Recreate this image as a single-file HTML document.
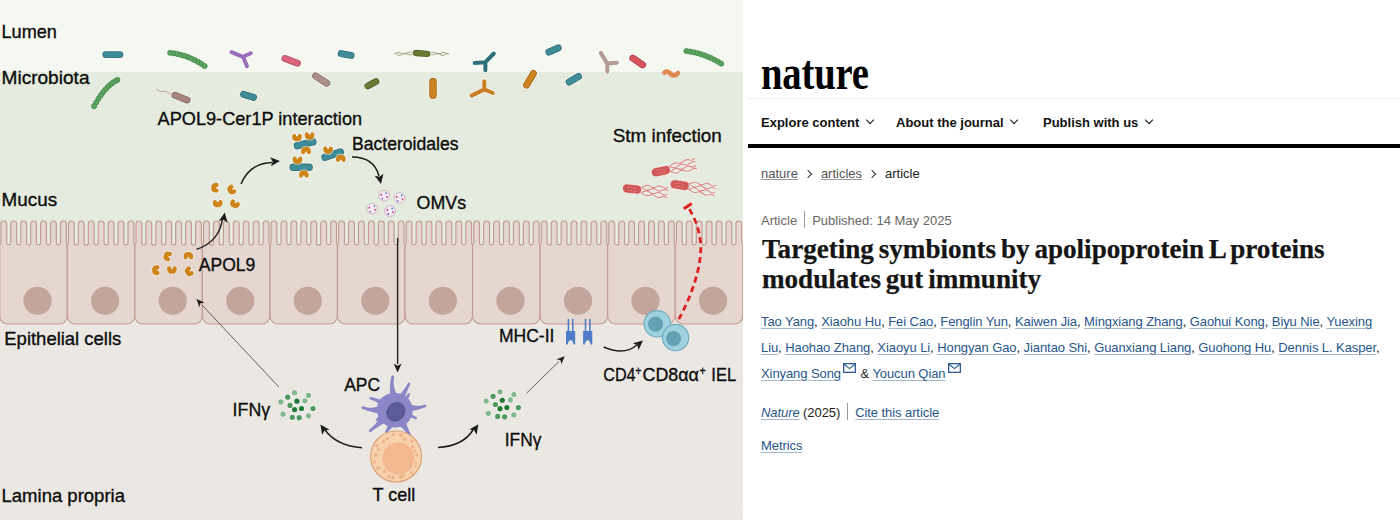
<!DOCTYPE html>
<html><head><meta charset="utf-8"><style>
*{margin:0;padding:0;box-sizing:border-box}
html,body{width:1400px;height:520px;overflow:hidden;background:#fff}
body{position:relative;font-family:"Liberation Sans",sans-serif}
#lp{position:absolute;left:0;top:0;width:743px;height:520px;overflow:hidden}
.t{position:absolute;font-family:"Liberation Sans",sans-serif;font-size:18px;color:#111;white-space:nowrap;line-height:1}
#rp{position:absolute;left:743px;top:0;width:657px;height:520px;background:#fff}
.logo,.hline,.ni,.thick,.bc,.meta,.title,.al{position:absolute}
.logo{left:761px;top:48.7px;transform-origin:0 0;transform:scaleX(0.805);font-family:"Liberation Serif",serif;font-weight:bold;font-size:48px;line-height:1;letter-spacing:-0.2px;color:#000;white-space:nowrap}
.hline{left:748px;top:98px;width:652px;height:1px;background:#eeeeee}
.ni{top:115.7px;font-weight:bold;font-size:13px;line-height:1;color:#111;white-space:nowrap}
.chev{display:inline-block;width:6.2px;height:6.2px;border-right:1.9px solid #111;border-bottom:1.9px solid #111;transform:rotate(45deg);margin-left:7.5px;vertical-align:4px}
.thick{left:748px;top:144px;width:652px;height:4px;background:#000}
.bc,.meta,.al{font-size:13px;line-height:1;white-space:nowrap;left:761px}
.bc a.g{color:#555;text-decoration:underline;text-decoration-color:#999}
.gt{display:inline-block;width:6px;height:6px;border-right:1.6px solid #333;border-top:1.6px solid #333;transform:rotate(45deg);margin:0 10px 0 7px;vertical-align:1px}
.cur{color:#222}
.meta{color:#666}
.sep{display:inline-block;width:1px;height:17px;background:#999;margin:0 7px;vertical-align:-4px;position:relative;top:-0.8px}
.sep2{display:inline-block;width:1px;height:17px;background:#999;margin:0 7px;vertical-align:-4px;position:relative;top:-1.5px}
.title{left:762px;top:233.6px;transform-origin:0 0;transform:scaleX(0.982);word-spacing:-2px;font-family:"Liberation Serif",serif;font-weight:bold;font-size:27.6px;line-height:30.6px;color:#151515;white-space:nowrap;-webkit-text-stroke:0.25px #151515}
.al a{color:#27568a;text-decoration:underline;text-decoration-color:#a3b9cb;text-decoration-thickness:1.4px;text-underline-offset:2px}
.al{color:#222;letter-spacing:-0.08px}
.env{display:inline-block;width:13px;height:10px;margin-left:2px;margin-right:1px;vertical-align:baseline;position:relative;top:-5px}
</style></head>
<body>
<div id="lp">
<svg width="743" height="520" viewBox="0 0 743 520" style="position:absolute;left:0;top:0">
<defs><marker id="ah" viewBox="0 0 10 10" refX="8" refY="5" markerWidth="6" markerHeight="6" orient="auto-start-reverse" markerUnits="userSpaceOnUse"><path d="M0,0 L10,5 L0,10 z" fill="#1e1e1e"/></marker></defs>
<rect x="0" y="0" width="743" height="520" fill="#ebe8e4"/>
<rect x="0" y="0" width="743" height="72" fill="#f4f8f1"/>
<rect x="0" y="72" width="743" height="180" fill="#e5ecdf"/>
<rect x="0" y="252" width="743" height="257.5" fill="#ebe8e4"/>
<rect x="0" y="508.5" width="743" height="1" fill="#e5e2de"/><rect x="0" y="509.5" width="743" height="1" fill="#efece9"/>
<path d="M-0.30,316.00 L-0.30,244.50 Q0.90,244.50 0.90,242.50 L0.90,223.90 A2.9,2.9 0 0 1 6.70,223.90 L6.70,242.94 A2.07,2.07 0 0 0 10.83,242.94 L10.83,223.90 A2.9,2.9 0 0 1 16.63,223.90 L16.63,242.94 A2.07,2.07 0 0 0 20.76,242.94 L20.76,223.90 A2.9,2.9 0 0 1 26.56,223.90 L26.56,242.94 A2.06,2.06 0 0 0 30.69,242.94 L30.69,223.90 A2.9,2.9 0 0 1 36.49,223.90 L36.49,242.94 A2.07,2.07 0 0 0 40.62,242.94 L40.62,223.90 A2.9,2.9 0 0 1 46.42,223.90 L46.42,242.94 A2.07,2.07 0 0 0 50.55,242.94 L50.55,223.90 A2.9,2.9 0 0 1 56.35,223.90 L56.35,242.94 A2.07,2.07 0 0 0 60.48,242.94 L60.48,223.90 A2.9,2.9 0 0 1 66.28,223.90 L66.28,242.50 Q66.28,244.50 67.25,244.50 L67.25,316.00 A8,8 0 0 1 59.25,324.00 L7.70,324.00 A8,8 0 0 1 -0.30,316.00 Z" fill="#e6d6d0" stroke="#c39a8f" stroke-width="1.15"/>
<circle cx="37.60" cy="300.8" r="14.1" fill="#c3a59c"/>
<path d="M67.25,316.00 L67.25,244.50 Q68.45,244.50 68.45,242.50 L68.45,223.90 A2.9,2.9 0 0 1 74.25,223.90 L74.25,242.94 A2.06,2.06 0 0 0 78.38,242.94 L78.38,223.90 A2.9,2.9 0 0 1 84.18,223.90 L84.18,242.94 A2.06,2.06 0 0 0 88.31,242.94 L88.31,223.90 A2.9,2.9 0 0 1 94.11,223.90 L94.11,242.94 A2.06,2.06 0 0 0 98.24,242.94 L98.24,223.90 A2.9,2.9 0 0 1 104.04,223.90 L104.04,242.94 A2.06,2.06 0 0 0 108.17,242.94 L108.17,223.90 A2.9,2.9 0 0 1 113.97,223.90 L113.97,242.94 A2.06,2.06 0 0 0 118.10,242.94 L118.10,223.90 A2.9,2.9 0 0 1 123.90,223.90 L123.90,242.94 A2.06,2.06 0 0 0 128.03,242.94 L128.03,223.90 A2.9,2.9 0 0 1 133.83,223.90 L133.83,242.50 Q133.83,244.50 134.80,244.50 L134.80,316.00 A8,8 0 0 1 126.80,324.00 L75.25,324.00 A8,8 0 0 1 67.25,316.00 Z" fill="#e6d6d0" stroke="#c39a8f" stroke-width="1.15"/>
<circle cx="105.15" cy="300.8" r="14.1" fill="#c3a59c"/>
<path d="M134.80,316.00 L134.80,244.50 Q136.00,244.50 136.00,242.50 L136.00,223.90 A2.9,2.9 0 0 1 141.80,223.90 L141.80,242.94 A2.06,2.06 0 0 0 145.93,242.94 L145.93,223.90 A2.9,2.9 0 0 1 151.73,223.90 L151.73,242.94 A2.06,2.06 0 0 0 155.86,242.94 L155.86,223.90 A2.9,2.9 0 0 1 161.66,223.90 L161.66,242.94 A2.06,2.06 0 0 0 165.79,242.94 L165.79,223.90 A2.9,2.9 0 0 1 171.59,223.90 L171.59,242.94 A2.06,2.06 0 0 0 175.72,242.94 L175.72,223.90 A2.9,2.9 0 0 1 181.52,223.90 L181.52,242.94 A2.06,2.06 0 0 0 185.65,242.94 L185.65,223.90 A2.9,2.9 0 0 1 191.45,223.90 L191.45,242.94 A2.06,2.06 0 0 0 195.58,242.94 L195.58,223.90 A2.9,2.9 0 0 1 201.38,223.90 L201.38,242.50 Q201.38,244.50 202.35,244.50 L202.35,316.00 A8,8 0 0 1 194.35,324.00 L142.80,324.00 A8,8 0 0 1 134.80,316.00 Z" fill="#e6d6d0" stroke="#c39a8f" stroke-width="1.15"/>
<circle cx="172.70" cy="300.8" r="14.1" fill="#c3a59c"/>
<path d="M202.35,316.00 L202.35,244.50 Q203.55,244.50 203.55,242.50 L203.55,223.90 A2.9,2.9 0 0 1 209.35,223.90 L209.35,242.94 A2.06,2.06 0 0 0 213.48,242.94 L213.48,223.90 A2.9,2.9 0 0 1 219.28,223.90 L219.28,242.94 A2.06,2.06 0 0 0 223.41,242.94 L223.41,223.90 A2.9,2.9 0 0 1 229.21,223.90 L229.21,242.94 A2.06,2.06 0 0 0 233.34,242.94 L233.34,223.90 A2.9,2.9 0 0 1 239.14,223.90 L239.14,242.94 A2.06,2.06 0 0 0 243.27,242.94 L243.27,223.90 A2.9,2.9 0 0 1 249.07,223.90 L249.07,242.94 A2.06,2.06 0 0 0 253.20,242.94 L253.20,223.90 A2.9,2.9 0 0 1 259.00,223.90 L259.00,242.93 A2.07,2.07 0 0 0 263.13,242.93 L263.13,223.90 A2.9,2.9 0 0 1 268.93,223.90 L268.93,242.50 Q268.93,244.50 269.90,244.50 L269.90,316.00 A8,8 0 0 1 261.90,324.00 L210.35,324.00 A8,8 0 0 1 202.35,316.00 Z" fill="#e6d6d0" stroke="#c39a8f" stroke-width="1.15"/>
<circle cx="240.25" cy="300.8" r="14.1" fill="#c3a59c"/>
<path d="M269.90,316.00 L269.90,244.50 Q271.10,244.50 271.10,242.50 L271.10,223.90 A2.9,2.9 0 0 1 276.90,223.90 L276.90,242.93 A2.07,2.07 0 0 0 281.03,242.93 L281.03,223.90 A2.9,2.9 0 0 1 286.83,223.90 L286.83,242.93 A2.07,2.07 0 0 0 290.96,242.93 L290.96,223.90 A2.9,2.9 0 0 1 296.76,223.90 L296.76,242.93 A2.07,2.07 0 0 0 300.89,242.93 L300.89,223.90 A2.9,2.9 0 0 1 306.69,223.90 L306.69,242.93 A2.07,2.07 0 0 0 310.82,242.93 L310.82,223.90 A2.9,2.9 0 0 1 316.62,223.90 L316.62,242.94 A2.06,2.06 0 0 0 320.75,242.94 L320.75,223.90 A2.9,2.9 0 0 1 326.55,223.90 L326.55,242.93 A2.07,2.07 0 0 0 330.68,242.93 L330.68,223.90 A2.9,2.9 0 0 1 336.48,223.90 L336.48,242.50 Q336.48,244.50 337.45,244.50 L337.45,316.00 A8,8 0 0 1 329.45,324.00 L277.90,324.00 A8,8 0 0 1 269.90,316.00 Z" fill="#e6d6d0" stroke="#c39a8f" stroke-width="1.15"/>
<circle cx="307.80" cy="300.8" r="14.1" fill="#c3a59c"/>
<path d="M337.45,316.00 L337.45,244.50 Q338.65,244.50 338.65,242.50 L338.65,223.90 A2.9,2.9 0 0 1 344.45,223.90 L344.45,242.93 A2.07,2.07 0 0 0 348.58,242.93 L348.58,223.90 A2.9,2.9 0 0 1 354.38,223.90 L354.38,242.93 A2.07,2.07 0 0 0 358.51,242.93 L358.51,223.90 A2.9,2.9 0 0 1 364.31,223.90 L364.31,242.93 A2.07,2.07 0 0 0 368.44,242.93 L368.44,223.90 A2.9,2.9 0 0 1 374.24,223.90 L374.24,242.94 A2.06,2.06 0 0 0 378.37,242.94 L378.37,223.90 A2.9,2.9 0 0 1 384.17,223.90 L384.17,242.93 A2.07,2.07 0 0 0 388.30,242.93 L388.30,223.90 A2.9,2.9 0 0 1 394.10,223.90 L394.10,242.93 A2.07,2.07 0 0 0 398.23,242.93 L398.23,223.90 A2.9,2.9 0 0 1 404.03,223.90 L404.03,242.50 Q404.03,244.50 405.00,244.50 L405.00,316.00 A8,8 0 0 1 397.00,324.00 L345.45,324.00 A8,8 0 0 1 337.45,316.00 Z" fill="#e6d6d0" stroke="#c39a8f" stroke-width="1.15"/>
<circle cx="375.35" cy="300.8" r="14.1" fill="#c3a59c"/>
<path d="M405.00,316.00 L405.00,244.50 Q406.20,244.50 406.20,242.50 L406.20,223.90 A2.9,2.9 0 0 1 412.00,223.90 L412.00,242.93 A2.07,2.07 0 0 0 416.13,242.93 L416.13,223.90 A2.9,2.9 0 0 1 421.93,223.90 L421.93,242.93 A2.07,2.07 0 0 0 426.06,242.93 L426.06,223.90 A2.9,2.9 0 0 1 431.86,223.90 L431.86,242.93 A2.07,2.07 0 0 0 435.99,242.93 L435.99,223.90 A2.9,2.9 0 0 1 441.79,223.90 L441.79,242.94 A2.06,2.06 0 0 0 445.92,242.94 L445.92,223.90 A2.9,2.9 0 0 1 451.72,223.90 L451.72,242.93 A2.07,2.07 0 0 0 455.85,242.93 L455.85,223.90 A2.9,2.9 0 0 1 461.65,223.90 L461.65,242.93 A2.07,2.07 0 0 0 465.78,242.93 L465.78,223.90 A2.9,2.9 0 0 1 471.58,223.90 L471.58,242.50 Q471.58,244.50 472.55,244.50 L472.55,316.00 A8,8 0 0 1 464.55,324.00 L413.00,324.00 A8,8 0 0 1 405.00,316.00 Z" fill="#e6d6d0" stroke="#c39a8f" stroke-width="1.15"/>
<circle cx="442.90" cy="300.8" r="14.1" fill="#c3a59c"/>
<path d="M472.55,316.00 L472.55,244.50 Q473.75,244.50 473.75,242.50 L473.75,223.90 A2.9,2.9 0 0 1 479.55,223.90 L479.55,242.93 A2.07,2.07 0 0 0 483.68,242.93 L483.68,223.90 A2.9,2.9 0 0 1 489.48,223.90 L489.48,242.93 A2.07,2.07 0 0 0 493.61,242.93 L493.61,223.90 A2.9,2.9 0 0 1 499.41,223.90 L499.41,242.93 A2.07,2.07 0 0 0 503.54,242.93 L503.54,223.90 A2.9,2.9 0 0 1 509.34,223.90 L509.34,242.93 A2.07,2.07 0 0 0 513.47,242.93 L513.47,223.90 A2.9,2.9 0 0 1 519.27,223.90 L519.27,242.94 A2.06,2.06 0 0 0 523.40,242.94 L523.40,223.90 A2.9,2.9 0 0 1 529.20,223.90 L529.20,242.93 A2.07,2.07 0 0 0 533.33,242.93 L533.33,223.90 A2.9,2.9 0 0 1 539.13,223.90 L539.13,242.50 Q539.13,244.50 540.10,244.50 L540.10,316.00 A8,8 0 0 1 532.10,324.00 L480.55,324.00 A8,8 0 0 1 472.55,316.00 Z" fill="#e6d6d0" stroke="#c39a8f" stroke-width="1.15"/>
<circle cx="510.45" cy="300.8" r="14.1" fill="#c3a59c"/>
<path d="M540.10,316.00 L540.10,244.50 Q541.30,244.50 541.30,242.50 L541.30,223.90 A2.9,2.9 0 0 1 547.10,223.90 L547.10,242.94 A2.06,2.06 0 0 0 551.23,242.94 L551.23,223.90 A2.9,2.9 0 0 1 557.03,223.90 L557.03,242.93 A2.07,2.07 0 0 0 561.16,242.93 L561.16,223.90 A2.9,2.9 0 0 1 566.96,223.90 L566.96,242.94 A2.06,2.06 0 0 0 571.09,242.94 L571.09,223.90 A2.9,2.9 0 0 1 576.89,223.90 L576.89,242.93 A2.07,2.07 0 0 0 581.02,242.93 L581.02,223.90 A2.9,2.9 0 0 1 586.82,223.90 L586.82,242.94 A2.06,2.06 0 0 0 590.95,242.94 L590.95,223.90 A2.9,2.9 0 0 1 596.75,223.90 L596.75,242.93 A2.07,2.07 0 0 0 600.88,242.93 L600.88,223.90 A2.9,2.9 0 0 1 606.68,223.90 L606.68,242.50 Q606.68,244.50 607.65,244.50 L607.65,316.00 A8,8 0 0 1 599.65,324.00 L548.10,324.00 A8,8 0 0 1 540.10,316.00 Z" fill="#e6d6d0" stroke="#c39a8f" stroke-width="1.15"/>
<circle cx="578.00" cy="300.8" r="14.1" fill="#c3a59c"/>
<path d="M607.65,316.00 L607.65,244.50 Q608.85,244.50 608.85,242.50 L608.85,223.90 A2.9,2.9 0 0 1 614.65,223.90 L614.65,242.94 A2.06,2.06 0 0 0 618.78,242.94 L618.78,223.90 A2.9,2.9 0 0 1 624.58,223.90 L624.58,242.93 A2.07,2.07 0 0 0 628.71,242.93 L628.71,223.90 A2.9,2.9 0 0 1 634.51,223.90 L634.51,242.94 A2.06,2.06 0 0 0 638.64,242.94 L638.64,223.90 A2.9,2.9 0 0 1 644.44,223.90 L644.44,242.93 A2.07,2.07 0 0 0 648.57,242.93 L648.57,223.90 A2.9,2.9 0 0 1 654.37,223.90 L654.37,242.94 A2.06,2.06 0 0 0 658.50,242.94 L658.50,223.90 A2.9,2.9 0 0 1 664.30,223.90 L664.30,242.93 A2.07,2.07 0 0 0 668.43,242.93 L668.43,223.90 A2.9,2.9 0 0 1 674.23,223.90 L674.23,242.50 Q674.23,244.50 675.20,244.50 L675.20,316.00 A8,8 0 0 1 667.20,324.00 L615.65,324.00 A8,8 0 0 1 607.65,316.00 Z" fill="#e6d6d0" stroke="#c39a8f" stroke-width="1.15"/>
<circle cx="645.55" cy="300.8" r="14.1" fill="#c3a59c"/>
<path d="M675.20,316.00 L675.20,244.50 Q676.40,244.50 676.40,242.50 L676.40,223.90 A2.9,2.9 0 0 1 682.20,223.90 L682.20,242.94 A2.06,2.06 0 0 0 686.33,242.94 L686.33,223.90 A2.9,2.9 0 0 1 692.13,223.90 L692.13,242.93 A2.07,2.07 0 0 0 696.26,242.93 L696.26,223.90 A2.9,2.9 0 0 1 702.06,223.90 L702.06,242.94 A2.06,2.06 0 0 0 706.19,242.94 L706.19,223.90 A2.9,2.9 0 0 1 711.99,223.90 L711.99,242.93 A2.07,2.07 0 0 0 716.12,242.93 L716.12,223.90 A2.9,2.9 0 0 1 721.92,223.90 L721.92,242.94 A2.06,2.06 0 0 0 726.05,242.94 L726.05,223.90 A2.9,2.9 0 0 1 731.85,223.90 L731.85,242.93 A2.07,2.07 0 0 0 735.98,242.93 L735.98,223.90 A2.9,2.9 0 0 1 741.78,223.90 L741.78,242.50 Q741.78,244.50 742.75,244.50 L742.75,316.00 A8,8 0 0 1 734.75,324.00 L683.20,324.00 A8,8 0 0 1 675.20,316.00 Z" fill="#e6d6d0" stroke="#c39a8f" stroke-width="1.15"/>
<circle cx="713.10" cy="300.8" r="14.1" fill="#c3a59c"/>
<line x1="105.80" y1="54.60" x2="119.90" y2="54.60" stroke="#fff" stroke-opacity="0.6" stroke-width="8.50" stroke-linecap="round"/>
<line x1="105.80" y1="54.60" x2="119.90" y2="54.60" stroke="#33717c" stroke-width="6.90" stroke-linecap="round"/>
<line x1="105.80" y1="54.60" x2="119.90" y2="54.60" stroke="#3f8b98" stroke-width="5.10" stroke-linecap="round"/>
<circle cx="170.20" cy="52.80" r="3.3" fill="#fff" fill-opacity="0.5"/>
<circle cx="173.93" cy="53.33" r="3.3" fill="#fff" fill-opacity="0.5"/>
<circle cx="177.59" cy="54.03" r="3.3" fill="#fff" fill-opacity="0.5"/>
<circle cx="181.19" cy="54.91" r="3.3" fill="#fff" fill-opacity="0.5"/>
<circle cx="184.73" cy="55.97" r="3.3" fill="#fff" fill-opacity="0.5"/>
<circle cx="188.20" cy="57.20" r="3.3" fill="#fff" fill-opacity="0.5"/>
<circle cx="191.61" cy="58.61" r="3.3" fill="#fff" fill-opacity="0.5"/>
<circle cx="194.95" cy="60.19" r="3.3" fill="#fff" fill-opacity="0.5"/>
<circle cx="198.23" cy="61.95" r="3.3" fill="#fff" fill-opacity="0.5"/>
<circle cx="201.45" cy="63.89" r="3.3" fill="#fff" fill-opacity="0.5"/>
<circle cx="204.60" cy="66.00" r="3.3" fill="#fff" fill-opacity="0.5"/>
<circle cx="170.20" cy="52.80" r="2.6" fill="#5aa55f" stroke="#49874d" stroke-width="0.8"/>
<circle cx="173.93" cy="53.33" r="2.6" fill="#5aa55f" stroke="#49874d" stroke-width="0.8"/>
<circle cx="177.59" cy="54.03" r="2.6" fill="#5aa55f" stroke="#49874d" stroke-width="0.8"/>
<circle cx="181.19" cy="54.91" r="2.6" fill="#5aa55f" stroke="#49874d" stroke-width="0.8"/>
<circle cx="184.73" cy="55.97" r="2.6" fill="#5aa55f" stroke="#49874d" stroke-width="0.8"/>
<circle cx="188.20" cy="57.20" r="2.6" fill="#5aa55f" stroke="#49874d" stroke-width="0.8"/>
<circle cx="191.61" cy="58.61" r="2.6" fill="#5aa55f" stroke="#49874d" stroke-width="0.8"/>
<circle cx="194.95" cy="60.19" r="2.6" fill="#5aa55f" stroke="#49874d" stroke-width="0.8"/>
<circle cx="198.23" cy="61.95" r="2.6" fill="#5aa55f" stroke="#49874d" stroke-width="0.8"/>
<circle cx="201.45" cy="63.89" r="2.6" fill="#5aa55f" stroke="#49874d" stroke-width="0.8"/>
<circle cx="204.60" cy="66.00" r="2.6" fill="#5aa55f" stroke="#49874d" stroke-width="0.8"/>
<path d="M243.00,56.80 L231.50,52.20 M243.00,56.80 L250.80,53.30 M243.00,56.80 L247.00,66.30" stroke="#fff" stroke-opacity="0.6" stroke-width="5.4" stroke-linecap="round" fill="none"/>
<path d="M243.00,56.80 L231.50,52.20 M243.00,56.80 L250.80,53.30 M243.00,56.80 L247.00,66.30" stroke="#9a6bb8" stroke-width="4.0" stroke-linecap="round" fill="none"/>
<circle cx="117.40" cy="79.90" r="3.3" fill="#fff" fill-opacity="0.5"/>
<circle cx="114.94" cy="81.26" r="3.3" fill="#fff" fill-opacity="0.5"/>
<circle cx="112.50" cy="82.90" r="3.3" fill="#fff" fill-opacity="0.5"/>
<circle cx="110.09" cy="84.83" r="3.3" fill="#fff" fill-opacity="0.5"/>
<circle cx="107.72" cy="87.04" r="3.3" fill="#fff" fill-opacity="0.5"/>
<circle cx="105.38" cy="89.53" r="3.3" fill="#fff" fill-opacity="0.5"/>
<circle cx="103.06" cy="92.30" r="3.3" fill="#fff" fill-opacity="0.5"/>
<circle cx="100.78" cy="95.35" r="3.3" fill="#fff" fill-opacity="0.5"/>
<circle cx="98.52" cy="98.68" r="3.3" fill="#fff" fill-opacity="0.5"/>
<circle cx="96.30" cy="102.30" r="3.3" fill="#fff" fill-opacity="0.5"/>
<circle cx="94.10" cy="106.20" r="3.3" fill="#fff" fill-opacity="0.5"/>
<circle cx="117.40" cy="79.90" r="2.6" fill="#5aa55f" stroke="#49874d" stroke-width="0.8"/>
<circle cx="114.94" cy="81.26" r="2.6" fill="#5aa55f" stroke="#49874d" stroke-width="0.8"/>
<circle cx="112.50" cy="82.90" r="2.6" fill="#5aa55f" stroke="#49874d" stroke-width="0.8"/>
<circle cx="110.09" cy="84.83" r="2.6" fill="#5aa55f" stroke="#49874d" stroke-width="0.8"/>
<circle cx="107.72" cy="87.04" r="2.6" fill="#5aa55f" stroke="#49874d" stroke-width="0.8"/>
<circle cx="105.38" cy="89.53" r="2.6" fill="#5aa55f" stroke="#49874d" stroke-width="0.8"/>
<circle cx="103.06" cy="92.30" r="2.6" fill="#5aa55f" stroke="#49874d" stroke-width="0.8"/>
<circle cx="100.78" cy="95.35" r="2.6" fill="#5aa55f" stroke="#49874d" stroke-width="0.8"/>
<circle cx="98.52" cy="98.68" r="2.6" fill="#5aa55f" stroke="#49874d" stroke-width="0.8"/>
<circle cx="96.30" cy="102.30" r="2.6" fill="#5aa55f" stroke="#49874d" stroke-width="0.8"/>
<circle cx="94.10" cy="106.20" r="2.6" fill="#5aa55f" stroke="#49874d" stroke-width="0.8"/>
<path d="M172,94.5 C168,93.5 166,90 162.5,91.5 C160,92.5 158.5,90 156.5,89.4" stroke="#b8958e" stroke-width="0.9" fill="none"/>
<line x1="175.00" y1="95.30" x2="187.00" y2="99.90" stroke="#fff" stroke-opacity="0.6" stroke-width="8.60" stroke-linecap="round"/>
<line x1="175.00" y1="95.30" x2="187.00" y2="99.90" stroke="#896d65" stroke-width="7.00" stroke-linecap="round"/>
<line x1="175.00" y1="95.30" x2="187.00" y2="99.90" stroke="#a8857c" stroke-width="5.20" stroke-linecap="round"/>
<line x1="243.60" y1="94.30" x2="253.60" y2="97.30" stroke="#fff" stroke-opacity="0.6" stroke-width="8.60" stroke-linecap="round"/>
<line x1="243.60" y1="94.30" x2="253.60" y2="97.30" stroke="#33717c" stroke-width="7.00" stroke-linecap="round"/>
<line x1="243.60" y1="94.30" x2="253.60" y2="97.30" stroke="#3f8b98" stroke-width="5.20" stroke-linecap="round"/>
<line x1="285.00" y1="58.50" x2="297.40" y2="63.20" stroke="#fff" stroke-opacity="0.6" stroke-width="8.60" stroke-linecap="round"/>
<line x1="285.00" y1="58.50" x2="297.40" y2="63.20" stroke="#b15164" stroke-width="7.00" stroke-linecap="round"/>
<line x1="285.00" y1="58.50" x2="297.40" y2="63.20" stroke="#d9637a" stroke-width="5.20" stroke-linecap="round"/>
<line x1="341.20" y1="53.60" x2="351.10" y2="55.40" stroke="#fff" stroke-opacity="0.6" stroke-width="8.60" stroke-linecap="round"/>
<line x1="341.20" y1="53.60" x2="351.10" y2="55.40" stroke="#33717c" stroke-width="7.00" stroke-linecap="round"/>
<line x1="341.20" y1="53.60" x2="351.10" y2="55.40" stroke="#3f8b98" stroke-width="5.20" stroke-linecap="round"/>
<path d="M413,53 C408,50 405,56 400,53 C397,51 396,55 394.6,53.5 M413,54 C409,57 405,51 401,55 C398,57 397,52 395,54 M429,53 C434,50 437,56 442,53 C445,51 447,55 449,53.5 M429,54 C433,57 437,51 441,55 C444,57 446,52 448.5,54" stroke="#8e9468" stroke-width="0.8" fill="none"/>
<line x1="416.00" y1="53.00" x2="427.20" y2="53.80" stroke="#fff" stroke-opacity="0.6" stroke-width="7.90" stroke-linecap="round"/>
<line x1="416.00" y1="53.00" x2="427.20" y2="53.80" stroke="#57642b" stroke-width="6.30" stroke-linecap="round"/>
<line x1="416.00" y1="53.00" x2="427.20" y2="53.80" stroke="#6b7b35" stroke-width="4.50" stroke-linecap="round"/>
<line x1="315.60" y1="76.00" x2="326.80" y2="83.20" stroke="#fff" stroke-opacity="0.6" stroke-width="8.60" stroke-linecap="round"/>
<line x1="315.60" y1="76.00" x2="326.80" y2="83.20" stroke="#8e756f" stroke-width="7.00" stroke-linecap="round"/>
<line x1="315.60" y1="76.00" x2="326.80" y2="83.20" stroke="#ae8f88" stroke-width="5.20" stroke-linecap="round"/>
<line x1="367.80" y1="86.00" x2="376.00" y2="81.60" stroke="#fff" stroke-opacity="0.6" stroke-width="8.40" stroke-linecap="round"/>
<line x1="367.80" y1="86.00" x2="376.00" y2="81.60" stroke="#57642b" stroke-width="6.80" stroke-linecap="round"/>
<line x1="367.80" y1="86.00" x2="376.00" y2="81.60" stroke="#6b7b35" stroke-width="5.00" stroke-linecap="round"/>
<line x1="433.00" y1="81.60" x2="433.00" y2="95.20" stroke="#fff" stroke-opacity="0.6" stroke-width="9.10" stroke-linecap="round"/>
<line x1="433.00" y1="81.60" x2="433.00" y2="95.20" stroke="#a86c1b" stroke-width="7.50" stroke-linecap="round"/>
<line x1="433.00" y1="81.60" x2="433.00" y2="95.20" stroke="#cd8422" stroke-width="5.70" stroke-linecap="round"/>
<path d="M485.40,62.20 L474.60,62.90 M485.40,62.20 L493.80,53.50 M485.40,62.20 L485.40,70.20" stroke="#fff" stroke-opacity="0.6" stroke-width="5.4" stroke-linecap="round" fill="none"/>
<path d="M485.40,62.20 L474.60,62.90 M485.40,62.20 L493.80,53.50 M485.40,62.20 L485.40,70.20" stroke="#2f6f7a" stroke-width="4.0" stroke-linecap="round" fill="none"/>
<path d="M484.30,89.40 L484.30,81.20 M484.30,89.40 L471.70,95.60 M484.30,89.40 L492.80,93.00" stroke="#fff" stroke-opacity="0.6" stroke-width="5.4" stroke-linecap="round" fill="none"/>
<path d="M484.30,89.40 L484.30,81.20 M484.30,89.40 L471.70,95.60 M484.30,89.40 L492.80,93.00" stroke="#c97f22" stroke-width="4.0" stroke-linecap="round" fill="none"/>
<line x1="549.00" y1="52.00" x2="558.20" y2="48.00" stroke="#fff" stroke-opacity="0.6" stroke-width="8.60" stroke-linecap="round"/>
<line x1="549.00" y1="52.00" x2="558.20" y2="48.00" stroke="#33717c" stroke-width="7.00" stroke-linecap="round"/>
<line x1="549.00" y1="52.00" x2="558.20" y2="48.00" stroke="#3f8b98" stroke-width="5.20" stroke-linecap="round"/>
<line x1="526.60" y1="85.00" x2="533.40" y2="73.40" stroke="#fff" stroke-opacity="0.6" stroke-width="8.60" stroke-linecap="round"/>
<line x1="526.60" y1="85.00" x2="533.40" y2="73.40" stroke="#a86c1b" stroke-width="7.00" stroke-linecap="round"/>
<line x1="526.60" y1="85.00" x2="533.40" y2="73.40" stroke="#cd8422" stroke-width="5.20" stroke-linecap="round"/>
<line x1="569.20" y1="82.00" x2="578.50" y2="76.50" stroke="#fff" stroke-opacity="0.6" stroke-width="8.60" stroke-linecap="round"/>
<line x1="569.20" y1="82.00" x2="578.50" y2="76.50" stroke="#33717c" stroke-width="7.00" stroke-linecap="round"/>
<line x1="569.20" y1="82.00" x2="578.50" y2="76.50" stroke="#3f8b98" stroke-width="5.20" stroke-linecap="round"/>
<path d="M607.20,63.60 L600.80,52.90 M607.20,63.60 L617.00,62.70 M607.20,63.60 L607.40,71.80" stroke="#fff" stroke-opacity="0.6" stroke-width="5.4" stroke-linecap="round" fill="none"/>
<path d="M607.20,63.60 L600.80,52.90 M607.20,63.60 L617.00,62.70 M607.20,63.60 L607.40,71.80" stroke="#b49a93" stroke-width="4.0" stroke-linecap="round" fill="none"/>
<line x1="632.80" y1="58.20" x2="642.60" y2="64.80" stroke="#fff" stroke-opacity="0.6" stroke-width="8.60" stroke-linecap="round"/>
<line x1="632.80" y1="58.20" x2="642.60" y2="64.80" stroke="#b1444d" stroke-width="7.00" stroke-linecap="round"/>
<line x1="632.80" y1="58.20" x2="642.60" y2="64.80" stroke="#d9545f" stroke-width="5.20" stroke-linecap="round"/>
<path d="M664.5,72.5 C667,70.5 669.5,72.5 671.5,74.5 C673.5,76 676,75.5 678,73" stroke="#e08850" stroke-width="4.6" stroke-linecap="round" fill="none"/>
<circle cx="686.40" cy="51.00" r="3.3" fill="#fff" fill-opacity="0.5"/>
<circle cx="690.10" cy="51.58" r="3.3" fill="#fff" fill-opacity="0.5"/>
<circle cx="693.74" cy="52.30" r="3.3" fill="#fff" fill-opacity="0.5"/>
<circle cx="697.34" cy="53.18" r="3.3" fill="#fff" fill-opacity="0.5"/>
<circle cx="700.90" cy="54.22" r="3.3" fill="#fff" fill-opacity="0.5"/>
<circle cx="704.40" cy="55.40" r="3.3" fill="#fff" fill-opacity="0.5"/>
<circle cx="707.86" cy="56.74" r="3.3" fill="#fff" fill-opacity="0.5"/>
<circle cx="711.26" cy="58.22" r="3.3" fill="#fff" fill-opacity="0.5"/>
<circle cx="714.62" cy="59.86" r="3.3" fill="#fff" fill-opacity="0.5"/>
<circle cx="717.94" cy="61.66" r="3.3" fill="#fff" fill-opacity="0.5"/>
<circle cx="721.20" cy="63.60" r="3.3" fill="#fff" fill-opacity="0.5"/>
<circle cx="686.40" cy="51.00" r="2.6" fill="#5aa55f" stroke="#49874d" stroke-width="0.8"/>
<circle cx="690.10" cy="51.58" r="2.6" fill="#5aa55f" stroke="#49874d" stroke-width="0.8"/>
<circle cx="693.74" cy="52.30" r="2.6" fill="#5aa55f" stroke="#49874d" stroke-width="0.8"/>
<circle cx="697.34" cy="53.18" r="2.6" fill="#5aa55f" stroke="#49874d" stroke-width="0.8"/>
<circle cx="700.90" cy="54.22" r="2.6" fill="#5aa55f" stroke="#49874d" stroke-width="0.8"/>
<circle cx="704.40" cy="55.40" r="2.6" fill="#5aa55f" stroke="#49874d" stroke-width="0.8"/>
<circle cx="707.86" cy="56.74" r="2.6" fill="#5aa55f" stroke="#49874d" stroke-width="0.8"/>
<circle cx="711.26" cy="58.22" r="2.6" fill="#5aa55f" stroke="#49874d" stroke-width="0.8"/>
<circle cx="714.62" cy="59.86" r="2.6" fill="#5aa55f" stroke="#49874d" stroke-width="0.8"/>
<circle cx="717.94" cy="61.66" r="2.6" fill="#5aa55f" stroke="#49874d" stroke-width="0.8"/>
<circle cx="721.20" cy="63.60" r="2.6" fill="#5aa55f" stroke="#49874d" stroke-width="0.8"/>
<line x1="297.50" y1="145.60" x2="312.80" y2="141.90" stroke="#fff" stroke-opacity="0.6" stroke-width="9.10" stroke-linecap="round"/>
<line x1="297.50" y1="145.60" x2="312.80" y2="141.90" stroke="#33717c" stroke-width="7.50" stroke-linecap="round"/>
<line x1="297.50" y1="145.60" x2="312.80" y2="141.90" stroke="#3f8b98" stroke-width="5.70" stroke-linecap="round"/>
<line x1="293.20" y1="167.30" x2="309.10" y2="167.30" stroke="#fff" stroke-opacity="0.6" stroke-width="9.10" stroke-linecap="round"/>
<line x1="293.20" y1="167.30" x2="309.10" y2="167.30" stroke="#33717c" stroke-width="7.50" stroke-linecap="round"/>
<line x1="293.20" y1="167.30" x2="309.10" y2="167.30" stroke="#3f8b98" stroke-width="5.70" stroke-linecap="round"/>
<line x1="325.00" y1="157.30" x2="340.30" y2="152.00" stroke="#fff" stroke-opacity="0.6" stroke-width="9.10" stroke-linecap="round"/>
<line x1="325.00" y1="157.30" x2="340.30" y2="152.00" stroke="#33717c" stroke-width="7.50" stroke-linecap="round"/>
<line x1="325.00" y1="157.30" x2="340.30" y2="152.00" stroke="#3f8b98" stroke-width="5.70" stroke-linecap="round"/>
<path transform="translate(297.00,137.50) rotate(0) scale(1.12)" d="M-2.5,-1.3 C-2.6,1.0 -1.4,2.1 0,1.1 C1.4,2.1 2.6,1.0 2.5,-1.3" stroke="#fff" stroke-opacity="0.6" stroke-width="5.2" stroke-linecap="round" fill="none"/>
<path transform="translate(297.00,137.50) rotate(0) scale(1.12)" d="M-2.5,-1.3 C-2.6,1.0 -1.4,2.1 0,1.1 C1.4,2.1 2.6,1.0 2.5,-1.3" stroke="#cf8419" stroke-width="3.8" stroke-linecap="round" fill="none"/>
<path transform="translate(309.60,135.80) rotate(0) scale(1.12)" d="M-2.5,-1.3 C-2.6,1.0 -1.4,2.1 0,1.1 C1.4,2.1 2.6,1.0 2.5,-1.3" stroke="#fff" stroke-opacity="0.6" stroke-width="5.2" stroke-linecap="round" fill="none"/>
<path transform="translate(309.60,135.80) rotate(0) scale(1.12)" d="M-2.5,-1.3 C-2.6,1.0 -1.4,2.1 0,1.1 C1.4,2.1 2.6,1.0 2.5,-1.3" stroke="#cf8419" stroke-width="3.8" stroke-linecap="round" fill="none"/>
<path transform="translate(306.00,150.60) rotate(180) scale(1.12)" d="M-2.5,-1.3 C-2.6,1.0 -1.4,2.1 0,1.1 C1.4,2.1 2.6,1.0 2.5,-1.3" stroke="#fff" stroke-opacity="0.6" stroke-width="5.2" stroke-linecap="round" fill="none"/>
<path transform="translate(306.00,150.60) rotate(180) scale(1.12)" d="M-2.5,-1.3 C-2.6,1.0 -1.4,2.1 0,1.1 C1.4,2.1 2.6,1.0 2.5,-1.3" stroke="#cf8419" stroke-width="3.8" stroke-linecap="round" fill="none"/>
<path transform="translate(297.50,160.20) rotate(0) scale(1.12)" d="M-2.5,-1.3 C-2.6,1.0 -1.4,2.1 0,1.1 C1.4,2.1 2.6,1.0 2.5,-1.3" stroke="#fff" stroke-opacity="0.6" stroke-width="5.2" stroke-linecap="round" fill="none"/>
<path transform="translate(297.50,160.20) rotate(0) scale(1.12)" d="M-2.5,-1.3 C-2.6,1.0 -1.4,2.1 0,1.1 C1.4,2.1 2.6,1.0 2.5,-1.3" stroke="#cf8419" stroke-width="3.8" stroke-linecap="round" fill="none"/>
<path transform="translate(303.80,174.20) rotate(180) scale(1.12)" d="M-2.5,-1.3 C-2.6,1.0 -1.4,2.1 0,1.1 C1.4,2.1 2.6,1.0 2.5,-1.3" stroke="#fff" stroke-opacity="0.6" stroke-width="5.2" stroke-linecap="round" fill="none"/>
<path transform="translate(303.80,174.20) rotate(180) scale(1.12)" d="M-2.5,-1.3 C-2.6,1.0 -1.4,2.1 0,1.1 C1.4,2.1 2.6,1.0 2.5,-1.3" stroke="#cf8419" stroke-width="3.8" stroke-linecap="round" fill="none"/>
<path transform="translate(328.10,150.00) rotate(0) scale(1.12)" d="M-2.5,-1.3 C-2.6,1.0 -1.4,2.1 0,1.1 C1.4,2.1 2.6,1.0 2.5,-1.3" stroke="#fff" stroke-opacity="0.6" stroke-width="5.2" stroke-linecap="round" fill="none"/>
<path transform="translate(328.10,150.00) rotate(0) scale(1.12)" d="M-2.5,-1.3 C-2.6,1.0 -1.4,2.1 0,1.1 C1.4,2.1 2.6,1.0 2.5,-1.3" stroke="#cf8419" stroke-width="3.8" stroke-linecap="round" fill="none"/>
<path transform="translate(340.80,158.50) rotate(180) scale(1.12)" d="M-2.5,-1.3 C-2.6,1.0 -1.4,2.1 0,1.1 C1.4,2.1 2.6,1.0 2.5,-1.3" stroke="#fff" stroke-opacity="0.6" stroke-width="5.2" stroke-linecap="round" fill="none"/>
<path transform="translate(340.80,158.50) rotate(180) scale(1.12)" d="M-2.5,-1.3 C-2.6,1.0 -1.4,2.1 0,1.1 C1.4,2.1 2.6,1.0 2.5,-1.3" stroke="#cf8419" stroke-width="3.8" stroke-linecap="round" fill="none"/>
<path transform="translate(215.10,187.80) rotate(90) scale(1.12)" d="M-2.5,-1.3 C-2.6,1.0 -1.4,2.1 0,1.1 C1.4,2.1 2.6,1.0 2.5,-1.3" stroke="#fff" stroke-opacity="0.6" stroke-width="5.2" stroke-linecap="round" fill="none"/>
<path transform="translate(215.10,187.80) rotate(90) scale(1.12)" d="M-2.5,-1.3 C-2.6,1.0 -1.4,2.1 0,1.1 C1.4,2.1 2.6,1.0 2.5,-1.3" stroke="#cf8419" stroke-width="3.8" stroke-linecap="round" fill="none"/>
<path transform="translate(231.50,189.80) rotate(60) scale(1.12)" d="M-2.5,-1.3 C-2.6,1.0 -1.4,2.1 0,1.1 C1.4,2.1 2.6,1.0 2.5,-1.3" stroke="#fff" stroke-opacity="0.6" stroke-width="5.2" stroke-linecap="round" fill="none"/>
<path transform="translate(231.50,189.80) rotate(60) scale(1.12)" d="M-2.5,-1.3 C-2.6,1.0 -1.4,2.1 0,1.1 C1.4,2.1 2.6,1.0 2.5,-1.3" stroke="#cf8419" stroke-width="3.8" stroke-linecap="round" fill="none"/>
<path transform="translate(217.70,203.50) rotate(0) scale(1.12)" d="M-2.5,-1.3 C-2.6,1.0 -1.4,2.1 0,1.1 C1.4,2.1 2.6,1.0 2.5,-1.3" stroke="#fff" stroke-opacity="0.6" stroke-width="5.2" stroke-linecap="round" fill="none"/>
<path transform="translate(217.70,203.50) rotate(0) scale(1.12)" d="M-2.5,-1.3 C-2.6,1.0 -1.4,2.1 0,1.1 C1.4,2.1 2.6,1.0 2.5,-1.3" stroke="#cf8419" stroke-width="3.8" stroke-linecap="round" fill="none"/>
<path transform="translate(234.70,204.10) rotate(30) scale(1.12)" d="M-2.5,-1.3 C-2.6,1.0 -1.4,2.1 0,1.1 C1.4,2.1 2.6,1.0 2.5,-1.3" stroke="#fff" stroke-opacity="0.6" stroke-width="5.2" stroke-linecap="round" fill="none"/>
<path transform="translate(234.70,204.10) rotate(30) scale(1.12)" d="M-2.5,-1.3 C-2.6,1.0 -1.4,2.1 0,1.1 C1.4,2.1 2.6,1.0 2.5,-1.3" stroke="#cf8419" stroke-width="3.8" stroke-linecap="round" fill="none"/>
<path transform="translate(167.50,256.10) rotate(110) scale(1.12)" d="M-2.5,-1.3 C-2.6,1.0 -1.4,2.1 0,1.1 C1.4,2.1 2.6,1.0 2.5,-1.3" stroke="#fff" stroke-opacity="0.6" stroke-width="5.2" stroke-linecap="round" fill="none"/>
<path transform="translate(167.50,256.10) rotate(110) scale(1.12)" d="M-2.5,-1.3 C-2.6,1.0 -1.4,2.1 0,1.1 C1.4,2.1 2.6,1.0 2.5,-1.3" stroke="#cf8419" stroke-width="3.8" stroke-linecap="round" fill="none"/>
<path transform="translate(188.40,255.80) rotate(180) scale(1.12)" d="M-2.5,-1.3 C-2.6,1.0 -1.4,2.1 0,1.1 C1.4,2.1 2.6,1.0 2.5,-1.3" stroke="#fff" stroke-opacity="0.6" stroke-width="5.2" stroke-linecap="round" fill="none"/>
<path transform="translate(188.40,255.80) rotate(180) scale(1.12)" d="M-2.5,-1.3 C-2.6,1.0 -1.4,2.1 0,1.1 C1.4,2.1 2.6,1.0 2.5,-1.3" stroke="#cf8419" stroke-width="3.8" stroke-linecap="round" fill="none"/>
<path transform="translate(156.00,270.20) rotate(90) scale(1.12)" d="M-2.5,-1.3 C-2.6,1.0 -1.4,2.1 0,1.1 C1.4,2.1 2.6,1.0 2.5,-1.3" stroke="#fff" stroke-opacity="0.6" stroke-width="5.2" stroke-linecap="round" fill="none"/>
<path transform="translate(156.00,270.20) rotate(90) scale(1.12)" d="M-2.5,-1.3 C-2.6,1.0 -1.4,2.1 0,1.1 C1.4,2.1 2.6,1.0 2.5,-1.3" stroke="#cf8419" stroke-width="3.8" stroke-linecap="round" fill="none"/>
<path transform="translate(171.90,269.90) rotate(0) scale(1.12)" d="M-2.5,-1.3 C-2.6,1.0 -1.4,2.1 0,1.1 C1.4,2.1 2.6,1.0 2.5,-1.3" stroke="#fff" stroke-opacity="0.6" stroke-width="5.2" stroke-linecap="round" fill="none"/>
<path transform="translate(171.90,269.90) rotate(0) scale(1.12)" d="M-2.5,-1.3 C-2.6,1.0 -1.4,2.1 0,1.1 C1.4,2.1 2.6,1.0 2.5,-1.3" stroke="#cf8419" stroke-width="3.8" stroke-linecap="round" fill="none"/>
<path transform="translate(189.00,271.60) rotate(60) scale(1.12)" d="M-2.5,-1.3 C-2.6,1.0 -1.4,2.1 0,1.1 C1.4,2.1 2.6,1.0 2.5,-1.3" stroke="#fff" stroke-opacity="0.6" stroke-width="5.2" stroke-linecap="round" fill="none"/>
<path transform="translate(189.00,271.60) rotate(60) scale(1.12)" d="M-2.5,-1.3 C-2.6,1.0 -1.4,2.1 0,1.1 C1.4,2.1 2.6,1.0 2.5,-1.3" stroke="#cf8419" stroke-width="3.8" stroke-linecap="round" fill="none"/>
<circle cx="384" cy="195.6" r="5.4" fill="#f4eaf0" stroke="#cdb5c5" stroke-width="1"/>
<circle cx="386.2" cy="193.1" r="0.9" fill="#4a86c8"/><circle cx="381.2" cy="194.6" r="0.9" fill="#c02c7c"/><circle cx="387" cy="196.79999999999998" r="0.9" fill="#c02c7c"/><circle cx="382.2" cy="198.6" r="0.9" fill="#8060c8"/>
<circle cx="399.5" cy="197.9" r="5.4" fill="#f4eaf0" stroke="#cdb5c5" stroke-width="1"/>
<circle cx="401.7" cy="195.4" r="0.9" fill="#4a86c8"/><circle cx="396.7" cy="196.9" r="0.9" fill="#c02c7c"/><circle cx="402.5" cy="199.1" r="0.9" fill="#c02c7c"/><circle cx="397.7" cy="200.9" r="0.9" fill="#8060c8"/>
<circle cx="372.1" cy="208.6" r="5.4" fill="#f4eaf0" stroke="#cdb5c5" stroke-width="1"/>
<circle cx="374.3" cy="206.1" r="0.9" fill="#4a86c8"/><circle cx="369.3" cy="207.6" r="0.9" fill="#c02c7c"/><circle cx="375.1" cy="209.79999999999998" r="0.9" fill="#c02c7c"/><circle cx="370.3" cy="211.6" r="0.9" fill="#8060c8"/>
<circle cx="390" cy="211" r="5.4" fill="#f4eaf0" stroke="#cdb5c5" stroke-width="1"/>
<circle cx="392.2" cy="208.5" r="0.9" fill="#4a86c8"/><circle cx="387.2" cy="210.0" r="0.9" fill="#c02c7c"/><circle cx="393" cy="212.2" r="0.9" fill="#c02c7c"/><circle cx="388.2" cy="214" r="0.9" fill="#8060c8"/>
<path d="M196.5,249.4 Q219,242 222.5,219" stroke="#1e1e1e" stroke-width="1.5" fill="none"/>
<path d="M224.80,212.50 L227.58,222.64 L223.53,219.69 L218.72,221.07 Z" fill="#1e1e1e"/>
<path d="M241,184 Q250,163 272,162.5" stroke="#1e1e1e" stroke-width="1.5" fill="none"/>
<path d="M280.00,161.00 L270.93,166.31 L272.73,161.64 L270.14,157.35 Z" fill="#1e1e1e"/>
<path d="M352,157 Q374,157 379,176" stroke="#1e1e1e" stroke-width="1.5" fill="none"/>
<path d="M381.00,184.00 L374.62,175.64 L379.48,176.86 L383.43,173.77 Z" fill="#1e1e1e"/>
<path d="M397.6,238 L397.6,364" stroke="#1e1e1e" stroke-width="1.4" fill="none"/>
<path d="M397.60,372.50 L393.60,363.50 L397.60,365.70 L401.60,363.50 Z" fill="#1e1e1e"/>
<path d="M362,447.7 Q337,446 325,430" stroke="#1e1e1e" stroke-width="1.5" fill="none"/>
<path d="M320.40,424.50 L329.54,429.70 L324.59,430.48 L322.16,434.86 Z" fill="#1e1e1e"/>
<path d="M438,447.5 Q463,446 473,430" stroke="#1e1e1e" stroke-width="1.5" fill="none"/>
<path d="M478.40,424.30 L476.64,434.66 L474.21,430.28 L469.26,429.50 Z" fill="#1e1e1e"/>
<path d="M278.9,387 L202,305" stroke="#555" stroke-width="0.9" fill="none"/>
<path d="M196.50,299.00 L204.53,302.44 L200.47,303.23 L199.42,307.23 Z" fill="#1e1e1e"/>
<path d="M526.5,393.2 L559,361.5" stroke="#555" stroke-width="0.9" fill="none"/>
<path d="M564.70,356.20 L561.38,364.27 L560.53,360.23 L556.51,359.24 Z" fill="#1e1e1e"/>
<path d="M603.7,347 Q624,356 637,345" stroke="#1e1e1e" stroke-width="1.5" fill="none"/>
<path d="M643.00,340.50 L638.62,350.05 L637.41,345.19 L632.83,343.16 Z" fill="#1e1e1e"/>
<path d="M678.8,319.2 C692,295 704,262 700,238 C698,225 693,215 687.7,206.2" stroke="#e0201e" stroke-width="2.8" stroke-dasharray="6,4" fill="none"/>
<path d="M683.7,208.8 L691.8,203.5" stroke="#e0201e" stroke-width="3" stroke-linecap="butt"/>
<g transform="translate(660.8,171.2) rotate(-12)">
<path d="M6,-3.8 q3,2.0 6,-0.36 q3,-1.9 6,-0.36 q3,2.0 6,-0.36 q3,-1.9 6,-0.36 q3,2.0 6,-0.36  M6,-1.3 q3,-1.9 6,-0.12 q3,2.0 6,-0.12 q3,-1.9 6,-0.12 q3,2.0 6,-0.12 q3,-1.9 6,-0.12  M6,1.2 q3,2.0 6,0.12 q3,-1.9 6,0.12 q3,2.0 6,0.12 q3,-1.9 6,0.12 q3,2.0 6,0.12  M6,3.6 q3,-1.9 6,0.36 q3,2.0 6,0.36 q3,-1.9 6,0.36 q3,2.0 6,0.36 q3,-1.9 6,0.36 " stroke="#fff" stroke-opacity="0.55" stroke-width="2.2" fill="none"/>
<path d="M6,-3.8 q3,2.0 6,-0.36 q3,-1.9 6,-0.36 q3,2.0 6,-0.36 q3,-1.9 6,-0.36 q3,2.0 6,-0.36  M6,-1.3 q3,-1.9 6,-0.12 q3,2.0 6,-0.12 q3,-1.9 6,-0.12 q3,2.0 6,-0.12 q3,-1.9 6,-0.12  M6,1.2 q3,2.0 6,0.12 q3,-1.9 6,0.12 q3,2.0 6,0.12 q3,-1.9 6,0.12 q3,2.0 6,0.12  M6,3.6 q3,-1.9 6,0.36 q3,2.0 6,0.36 q3,-1.9 6,0.36 q3,2.0 6,0.36 q3,-1.9 6,0.36 " stroke="#dc8a85" stroke-width="1.15" fill="none"/>
<rect x="-9.6" y="-4.6" width="19.2" height="9.2" rx="4.6" fill="#d05858" stroke="#fff" stroke-opacity="0.6" stroke-width="1"/>
<path d="M-5,-1 Q0,-2.2 5,-0.6 M-4,1.8 Q1,1.2 5,2" stroke="#e07c7a" stroke-width="0.7" fill="none"/>
</g>
<g transform="translate(632,189) rotate(6)">
<path d="M6,-3.8 q3,2.0 6,-0.36 q3,-1.9 6,-0.36 q3,2.0 6,-0.36 q3,-1.9 6,-0.36 q3,2.0 6,-0.36  M6,-1.3 q3,-1.9 6,-0.12 q3,2.0 6,-0.12 q3,-1.9 6,-0.12 q3,2.0 6,-0.12 q3,-1.9 6,-0.12  M6,1.2 q3,2.0 6,0.12 q3,-1.9 6,0.12 q3,2.0 6,0.12 q3,-1.9 6,0.12 q3,2.0 6,0.12  M6,3.6 q3,-1.9 6,0.36 q3,2.0 6,0.36 q3,-1.9 6,0.36 q3,2.0 6,0.36 q3,-1.9 6,0.36 " stroke="#fff" stroke-opacity="0.55" stroke-width="2.2" fill="none"/>
<path d="M6,-3.8 q3,2.0 6,-0.36 q3,-1.9 6,-0.36 q3,2.0 6,-0.36 q3,-1.9 6,-0.36 q3,2.0 6,-0.36  M6,-1.3 q3,-1.9 6,-0.12 q3,2.0 6,-0.12 q3,-1.9 6,-0.12 q3,2.0 6,-0.12 q3,-1.9 6,-0.12  M6,1.2 q3,2.0 6,0.12 q3,-1.9 6,0.12 q3,2.0 6,0.12 q3,-1.9 6,0.12 q3,2.0 6,0.12  M6,3.6 q3,-1.9 6,0.36 q3,2.0 6,0.36 q3,-1.9 6,0.36 q3,2.0 6,0.36 q3,-1.9 6,0.36 " stroke="#dc8a85" stroke-width="1.15" fill="none"/>
<rect x="-9.6" y="-4.6" width="19.2" height="9.2" rx="4.6" fill="#d05858" stroke="#fff" stroke-opacity="0.6" stroke-width="1"/>
<path d="M-5,-1 Q0,-2.2 5,-0.6 M-4,1.8 Q1,1.2 5,2" stroke="#e07c7a" stroke-width="0.7" fill="none"/>
</g>
<g transform="translate(679.7,185.1) rotate(9)">
<path d="M6,-3.8 q3,2.0 6,-0.36 q3,-1.9 6,-0.36 q3,2.0 6,-0.36 q3,-1.9 6,-0.36 q3,2.0 6,-0.36  M6,-1.3 q3,-1.9 6,-0.12 q3,2.0 6,-0.12 q3,-1.9 6,-0.12 q3,2.0 6,-0.12 q3,-1.9 6,-0.12  M6,1.2 q3,2.0 6,0.12 q3,-1.9 6,0.12 q3,2.0 6,0.12 q3,-1.9 6,0.12 q3,2.0 6,0.12  M6,3.6 q3,-1.9 6,0.36 q3,2.0 6,0.36 q3,-1.9 6,0.36 q3,2.0 6,0.36 q3,-1.9 6,0.36 " stroke="#fff" stroke-opacity="0.55" stroke-width="2.2" fill="none"/>
<path d="M6,-3.8 q3,2.0 6,-0.36 q3,-1.9 6,-0.36 q3,2.0 6,-0.36 q3,-1.9 6,-0.36 q3,2.0 6,-0.36  M6,-1.3 q3,-1.9 6,-0.12 q3,2.0 6,-0.12 q3,-1.9 6,-0.12 q3,2.0 6,-0.12 q3,-1.9 6,-0.12  M6,1.2 q3,2.0 6,0.12 q3,-1.9 6,0.12 q3,2.0 6,0.12 q3,-1.9 6,0.12 q3,2.0 6,0.12  M6,3.6 q3,-1.9 6,0.36 q3,2.0 6,0.36 q3,-1.9 6,0.36 q3,2.0 6,0.36 q3,-1.9 6,0.36 " stroke="#dc8a85" stroke-width="1.15" fill="none"/>
<rect x="-9.6" y="-4.6" width="19.2" height="9.2" rx="4.6" fill="#d05858" stroke="#fff" stroke-opacity="0.6" stroke-width="1"/>
<path d="M-5,-1 Q0,-2.2 5,-0.6 M-4,1.8 Q1,1.2 5,2" stroke="#e07c7a" stroke-width="0.7" fill="none"/>
</g>
<path d="M397.81,395.79 L396.71,393.91 L395.77,392.03 L395.00,390.13 L394.39,388.23 L393.95,386.33 L393.68,384.44 L393.57,382.58 L393.63,380.73 L393.84,378.92 L394.21,377.15 A1.45,1.45 0 0 0 391.39,376.45 L391.39,376.45 L390.96,378.39 L390.60,380.37 L390.31,382.39 L390.10,384.45 L389.95,386.57 L389.86,388.75 L389.84,391.00 L389.89,393.32 L390.01,395.72 L390.19,398.21 Z" fill="#8b87c7"/>
<path d="M403.97,399.85 L404.58,398.02 L405.20,396.25 L405.83,394.55 L406.45,392.91 L407.08,391.34 L407.71,389.84 L408.34,388.39 L408.97,387.00 L409.60,385.67 L410.22,384.39 A1.35,1.35 0 0 0 407.78,383.21 L407.78,383.21 L407.16,384.45 L406.47,385.70 L405.70,386.97 L404.85,388.26 L403.92,389.56 L402.91,390.86 L401.81,392.18 L400.64,393.50 L399.38,394.82 L398.03,396.15 Z" fill="#8b87c7"/>
<path d="M407.12,402.32 L407.40,401.39 L407.67,400.50 L407.95,399.66 L408.24,398.86 L408.52,398.11 L408.80,397.40 L409.08,396.73 L409.37,396.10 L409.64,395.51 L409.92,394.96 A1.25,1.25 0 0 0 407.68,393.84 L407.68,393.84 L407.41,394.36 L407.10,394.89 L406.74,395.44 L406.33,396.01 L405.88,396.59 L405.38,397.19 L404.83,397.79 L404.23,398.41 L403.58,399.04 L402.88,399.68 Z" fill="#8b87c7"/>
<path d="M408.78,411.99 L410.70,411.53 L412.55,411.07 L414.34,410.61 L416.07,410.16 L417.74,409.70 L419.37,409.24 L420.95,408.78 L422.49,408.31 L423.99,407.82 L425.47,407.32 A1.40,1.40 0 0 0 424.53,404.68 L424.53,404.68 L423.17,405.12 L421.75,405.45 L420.29,405.68 L418.79,405.80 L417.26,405.80 L415.69,405.68 L414.10,405.45 L412.49,405.09 L410.86,404.61 L409.22,404.01 Z" fill="#8b87c7"/>
<path d="M407.50,416.00 L408.47,416.40 L409.39,416.78 L410.27,417.15 L411.11,417.50 L411.90,417.84 L412.65,418.17 L413.37,418.49 L414.04,418.79 L414.69,419.08 L415.31,419.35 A1.25,1.25 0 0 0 416.29,417.05 L416.29,417.05 L415.77,416.80 L415.22,416.50 L414.66,416.15 L414.08,415.73 L413.50,415.26 L412.91,414.72 L412.31,414.13 L411.71,413.48 L411.11,412.77 L410.50,412.00 Z" fill="#8b87c7"/>
<path d="M379.80,406.00 L377.97,406.60 L376.17,407.07 L374.40,407.41 L372.66,407.62 L370.97,407.70 L369.33,407.66 L367.73,407.49 L366.20,407.21 L364.73,406.81 L363.32,406.30 A1.40,1.40 0 0 0 362.28,408.90 L362.28,408.90 L363.81,409.49 L365.39,410.04 L367.01,410.58 L368.69,411.09 L370.43,411.60 L372.23,412.09 L374.11,412.58 L376.05,413.05 L378.08,413.53 L380.20,414.00 Z" fill="#8b87c7"/>
<path d="M383.51,400.41 L382.09,400.00 L380.71,399.61 L379.37,399.24 L378.07,398.88 L376.82,398.53 L375.59,398.20 L374.40,397.88 L373.24,397.58 L372.10,397.30 L370.99,397.03 A1.30,1.30 0 0 0 370.41,399.57 L370.41,399.57 L371.43,399.83 L372.45,400.16 L373.48,400.57 L374.51,401.05 L375.53,401.62 L376.55,402.26 L377.56,402.97 L378.55,403.77 L379.53,404.64 L380.49,405.59 Z" fill="#8b87c7"/>
<path d="M381.37,415.99 L380.15,417.77 L378.93,419.45 L377.70,421.04 L376.47,422.54 L375.23,423.95 L374.00,425.27 L372.77,426.50 L371.55,427.65 L370.33,428.72 L369.13,429.71 A1.40,1.40 0 0 0 370.87,431.89 L370.87,431.89 L372.11,430.92 L373.41,429.93 L374.79,428.94 L376.24,427.95 L377.77,426.95 L379.37,425.96 L381.06,424.97 L382.83,423.98 L384.69,422.99 L386.63,422.01 Z" fill="#8b87c7"/>
<path d="M379.59,414.59 L379.12,415.27 L378.68,415.89 L378.27,416.46 L377.88,416.97 L377.53,417.43 L377.20,417.82 L376.90,418.16 L376.64,418.44 L376.41,418.66 L376.22,418.82 A1.25,1.25 0 0 0 377.78,420.78 L377.78,420.78 L378.03,420.57 L378.32,420.34 L378.66,420.08 L379.04,419.79 L379.47,419.47 L379.96,419.12 L380.49,418.74 L381.08,418.33 L381.72,417.89 L382.41,417.41 Z" fill="#8b87c7"/>
<path d="M398.75,425.32 L400.12,426.38 L401.42,427.48 L402.64,428.60 L403.78,429.76 L404.83,430.95 L405.81,432.16 L406.71,433.39 L407.54,434.64 L408.28,435.90 L408.96,437.18 A1.50,1.50 0 0 0 411.64,435.82 L411.64,435.82 L410.96,434.49 L410.29,433.12 L409.62,431.72 L408.96,430.28 L408.32,428.80 L407.68,427.28 L407.06,425.71 L406.44,424.08 L405.84,422.41 L405.25,420.68 Z" fill="#8b87c7"/>
<path d="M388.60,423.20 L388.24,424.20 L387.89,425.16 L387.54,426.07 L387.19,426.94 L386.84,427.76 L386.49,428.55 L386.15,429.29 L385.81,430.00 L385.48,430.68 L385.16,431.33 A1.50,1.50 0 0 0 387.84,432.67 L387.84,432.67 L388.15,432.10 L388.51,431.52 L388.92,430.93 L389.39,430.33 L389.91,429.74 L390.49,429.14 L391.13,428.55 L391.83,427.96 L392.59,427.38 L393.40,426.80 Z" fill="#8b87c7"/>
<path d="M377,411 C376,400 384,393.5 394,393 C404,392.5 412,399 412.5,409 C413,419 406,427.5 396,427.5 C385,427.5 378,421 377,411 Z" fill="#8b87c7"/>
<ellipse cx="395.9" cy="411.8" rx="8.6" ry="9.8" transform="rotate(40 395.9 411.8)" fill="#5d5a98" stroke="#514e8a" stroke-width="0.8"/>
<circle cx="396.1" cy="456.5" r="25.5" fill="#f8d2ae" stroke="#dda274" stroke-width="1.2"/>
<circle cx="416.75" cy="455.37" r="1.56" fill="#efb389"/>
<circle cx="416.12" cy="462.85" r="1.35" fill="#efb389"/>
<circle cx="415.59" cy="466.38" r="1.48" fill="#efb389"/>
<circle cx="411.75" cy="472.65" r="1.63" fill="#efb389"/>
<circle cx="403.25" cy="475.61" r="1.75" fill="#efb389"/>
<circle cx="400.61" cy="477.05" r="1.91" fill="#efb389"/>
<circle cx="392.94" cy="477.73" r="1.77" fill="#efb389"/>
<circle cx="388.98" cy="476.82" r="1.71" fill="#efb389"/>
<circle cx="384.50" cy="471.07" r="1.91" fill="#efb389"/>
<circle cx="378.18" cy="468.16" r="1.92" fill="#efb389"/>
<circle cx="374.56" cy="461.79" r="1.58" fill="#efb389"/>
<circle cx="375.86" cy="455.22" r="1.95" fill="#efb389"/>
<circle cx="378.45" cy="449.76" r="1.40" fill="#efb389"/>
<circle cx="376.60" cy="445.55" r="1.61" fill="#efb389"/>
<circle cx="383.60" cy="441.27" r="1.66" fill="#efb389"/>
<circle cx="387.40" cy="438.60" r="1.71" fill="#efb389"/>
<circle cx="393.34" cy="434.56" r="1.78" fill="#efb389"/>
<circle cx="401.15" cy="435.17" r="1.99" fill="#efb389"/>
<circle cx="404.68" cy="439.37" r="1.90" fill="#efb389"/>
<circle cx="412.14" cy="441.27" r="1.70" fill="#efb389"/>
<circle cx="412.83" cy="446.78" r="1.88" fill="#efb389"/>
<circle cx="415.03" cy="451.26" r="1.34" fill="#efb389"/>
<circle cx="398.3" cy="458.5" r="16" fill="#f3b88f"/>
<circle cx="294.60" cy="392.70" r="3.3" fill="#fff" fill-opacity="0.5"/><circle cx="294.60" cy="392.70" r="2.6" fill="#80b78b"/>
<circle cx="308.50" cy="395.40" r="3.3" fill="#fff" fill-opacity="0.5"/><circle cx="308.50" cy="395.40" r="2.6" fill="#80b78b"/>
<circle cx="287.70" cy="397.20" r="3.3" fill="#fff" fill-opacity="0.5"/><circle cx="287.70" cy="397.20" r="2.6" fill="#4e9a5e"/>
<circle cx="296.90" cy="401.20" r="3.3" fill="#fff" fill-opacity="0.5"/><circle cx="296.90" cy="401.20" r="2.6" fill="#1f7a36"/>
<circle cx="305.00" cy="400.80" r="3.3" fill="#fff" fill-opacity="0.5"/><circle cx="305.00" cy="400.80" r="2.6" fill="#80b78b"/>
<circle cx="280.80" cy="401.90" r="3.3" fill="#fff" fill-opacity="0.5"/><circle cx="280.80" cy="401.90" r="2.6" fill="#80b78b"/>
<circle cx="290.00" cy="405.40" r="3.3" fill="#fff" fill-opacity="0.5"/><circle cx="290.00" cy="405.40" r="2.6" fill="#4e9a5e"/>
<circle cx="294.60" cy="409.60" r="3.3" fill="#fff" fill-opacity="0.5"/><circle cx="294.60" cy="409.60" r="2.6" fill="#1f7a36"/>
<circle cx="301.50" cy="408.50" r="3.3" fill="#fff" fill-opacity="0.5"/><circle cx="301.50" cy="408.50" r="2.6" fill="#1f7a36"/>
<circle cx="313.00" cy="408.50" r="3.3" fill="#fff" fill-opacity="0.5"/><circle cx="313.00" cy="408.50" r="2.6" fill="#4e9a5e"/>
<circle cx="283.00" cy="414.20" r="3.3" fill="#fff" fill-opacity="0.5"/><circle cx="283.00" cy="414.20" r="2.6" fill="#80b78b"/>
<circle cx="292.30" cy="417.30" r="3.3" fill="#fff" fill-opacity="0.5"/><circle cx="292.30" cy="417.30" r="2.6" fill="#4e9a5e"/>
<circle cx="299.20" cy="417.70" r="3.3" fill="#fff" fill-opacity="0.5"/><circle cx="299.20" cy="417.70" r="2.6" fill="#4e9a5e"/>
<circle cx="308.50" cy="415.80" r="3.3" fill="#fff" fill-opacity="0.5"/><circle cx="308.50" cy="415.80" r="2.6" fill="#80b78b"/>
<circle cx="500.00" cy="391.80" r="3.3" fill="#fff" fill-opacity="0.5"/><circle cx="500.00" cy="391.80" r="2.6" fill="#80b78b"/>
<circle cx="513.90" cy="394.50" r="3.3" fill="#fff" fill-opacity="0.5"/><circle cx="513.90" cy="394.50" r="2.6" fill="#80b78b"/>
<circle cx="493.10" cy="396.30" r="3.3" fill="#fff" fill-opacity="0.5"/><circle cx="493.10" cy="396.30" r="2.6" fill="#4e9a5e"/>
<circle cx="502.30" cy="400.30" r="3.3" fill="#fff" fill-opacity="0.5"/><circle cx="502.30" cy="400.30" r="2.6" fill="#1f7a36"/>
<circle cx="510.40" cy="399.90" r="3.3" fill="#fff" fill-opacity="0.5"/><circle cx="510.40" cy="399.90" r="2.6" fill="#80b78b"/>
<circle cx="486.20" cy="401.00" r="3.3" fill="#fff" fill-opacity="0.5"/><circle cx="486.20" cy="401.00" r="2.6" fill="#80b78b"/>
<circle cx="495.40" cy="404.50" r="3.3" fill="#fff" fill-opacity="0.5"/><circle cx="495.40" cy="404.50" r="2.6" fill="#4e9a5e"/>
<circle cx="500.00" cy="408.70" r="3.3" fill="#fff" fill-opacity="0.5"/><circle cx="500.00" cy="408.70" r="2.6" fill="#1f7a36"/>
<circle cx="506.90" cy="407.60" r="3.3" fill="#fff" fill-opacity="0.5"/><circle cx="506.90" cy="407.60" r="2.6" fill="#1f7a36"/>
<circle cx="518.40" cy="407.60" r="3.3" fill="#fff" fill-opacity="0.5"/><circle cx="518.40" cy="407.60" r="2.6" fill="#4e9a5e"/>
<circle cx="488.40" cy="413.30" r="3.3" fill="#fff" fill-opacity="0.5"/><circle cx="488.40" cy="413.30" r="2.6" fill="#80b78b"/>
<circle cx="497.70" cy="416.40" r="3.3" fill="#fff" fill-opacity="0.5"/><circle cx="497.70" cy="416.40" r="2.6" fill="#4e9a5e"/>
<circle cx="504.60" cy="416.80" r="3.3" fill="#fff" fill-opacity="0.5"/><circle cx="504.60" cy="416.80" r="2.6" fill="#4e9a5e"/>
<circle cx="513.90" cy="414.90" r="3.3" fill="#fff" fill-opacity="0.5"/><circle cx="513.90" cy="414.90" r="2.6" fill="#80b78b"/>
<path d="M568.4,319 L568.4,332 M572.8000000000001,319 L572.8000000000001,332" stroke="#4b78c6" stroke-width="1.5"/>
<path d="M566.0,331 L575.2,331 L575.2,343.5 Q575.2,345 573.6,344.5 L572.6,341.5 Q570.6,338.5 568.6,341.5 L567.6,344.5 Q566.0,345 566.0,343.5 Z" fill="#4f7cc9"/>
<path d="M585.5,319 L585.5,332 M589.9000000000001,319 L589.9000000000001,332" stroke="#4b78c6" stroke-width="1.5"/>
<path d="M583.1,331 L592.3000000000001,331 L592.3000000000001,343.5 Q592.3000000000001,345 590.7,344.5 L589.7,341.5 Q587.7,338.5 585.7,341.5 L584.7,344.5 Q583.1,345 583.1,343.5 Z" fill="#4f7cc9"/>
<circle cx="657.2" cy="323.8" r="13.2" fill="#a0d1de" stroke="#6eaabc" stroke-width="1.1"/>
<circle cx="655.5" cy="324.2" r="7.6" fill="#63a2b5"/>
<circle cx="675.6" cy="337.6" r="13.2" fill="#a0d1de" stroke="#6eaabc" stroke-width="1.1"/>
<circle cx="673.5" cy="338.6" r="7.6" fill="#63a2b5"/>
<text x="1.50" y="38.10" font-family="Liberation Sans" font-size="19" fill="#0d0d0d" stroke="#0d0d0d" stroke-width="0.35" textLength="55.40" lengthAdjust="spacingAndGlyphs">Lumen</text>
<text x="1.50" y="84.20" font-family="Liberation Sans" font-size="19" fill="#0d0d0d" stroke="#0d0d0d" stroke-width="0.35" textLength="88.00" lengthAdjust="spacingAndGlyphs">Microbiota</text>
<text x="157.60" y="125.40" font-family="Liberation Sans" font-size="19" fill="#0d0d0d" stroke="#0d0d0d" stroke-width="0.35" textLength="204.50" lengthAdjust="spacingAndGlyphs">APOL9-Cer1P interaction</text>
<text x="352.00" y="149.60" font-family="Liberation Sans" font-size="18" fill="#0d0d0d" stroke="#0d0d0d" stroke-width="0.35" textLength="106.50" lengthAdjust="spacingAndGlyphs">Bacteroidales</text>
<text x="416.60" y="209.00" font-family="Liberation Sans" font-size="19" fill="#0d0d0d" stroke="#0d0d0d" stroke-width="0.35" textLength="49.50" lengthAdjust="spacingAndGlyphs">OMVs</text>
<text x="612.80" y="141.50" font-family="Liberation Sans" font-size="19" fill="#0d0d0d" stroke="#0d0d0d" stroke-width="0.35" textLength="109.00" lengthAdjust="spacingAndGlyphs">Stm infection</text>
<text x="1.50" y="206.20" font-family="Liberation Sans" font-size="19" fill="#0d0d0d" stroke="#0d0d0d" stroke-width="0.35" textLength="55.60" lengthAdjust="spacingAndGlyphs">Mucus</text>
<text x="198.80" y="271.00" font-family="Liberation Sans" font-size="19" fill="#0d0d0d" stroke="#0d0d0d" stroke-width="0.35" textLength="56.50" lengthAdjust="spacingAndGlyphs">APOL9</text>
<text x="4.30" y="344.60" font-family="Liberation Sans" font-size="19" fill="#0d0d0d" stroke="#0d0d0d" stroke-width="0.35" textLength="117.00" lengthAdjust="spacingAndGlyphs">Epithelial cells</text>
<text x="498.90" y="341.90" font-family="Liberation Sans" font-size="19" fill="#0d0d0d" stroke="#0d0d0d" stroke-width="0.35" textLength="55.50" lengthAdjust="spacingAndGlyphs">MHC-II</text>
<text x="344.20" y="391.30" font-family="Liberation Sans" font-size="19" fill="#0d0d0d" stroke="#0d0d0d" stroke-width="0.35" textLength="35.80" lengthAdjust="spacingAndGlyphs">APC</text>
<text x="232.60" y="415.90" font-family="Liberation Sans" font-size="19" fill="#0d0d0d" stroke="#0d0d0d" stroke-width="0.35" textLength="37.50" lengthAdjust="spacingAndGlyphs">IFN&#947;</text>
<text x="504.80" y="445.50" font-family="Liberation Sans" font-size="19" fill="#0d0d0d" stroke="#0d0d0d" stroke-width="0.35" textLength="36.50" lengthAdjust="spacingAndGlyphs">IFN&#947;</text>
<text x="372.60" y="501.40" font-family="Liberation Sans" font-size="19" fill="#0d0d0d" stroke="#0d0d0d" stroke-width="0.35" textLength="42.80" lengthAdjust="spacingAndGlyphs">T cell</text>
<text x="1.50" y="502.00" font-family="Liberation Sans" font-size="19" fill="#0d0d0d" stroke="#0d0d0d" stroke-width="0.35" textLength="123.50" lengthAdjust="spacingAndGlyphs">Lamina propria</text>
<text x="603.30" y="381.00" font-family="Liberation Sans" font-size="19" fill="#0d0d0d" stroke="#0d0d0d" stroke-width="0.35" textLength="32.20" lengthAdjust="spacingAndGlyphs">CD4</text>
<text x="635.30" y="374.50" font-family="Liberation Sans" font-size="12" fill="#0d0d0d" stroke="#0d0d0d" stroke-width="0.35" textLength="6.20" lengthAdjust="spacingAndGlyphs">+</text>
<text x="642.50" y="381.00" font-family="Liberation Sans" font-size="19" fill="#0d0d0d" stroke="#0d0d0d" stroke-width="0.35" textLength="56.40" lengthAdjust="spacingAndGlyphs">CD8&#945;&#945;</text>
<text x="699.60" y="374.50" font-family="Liberation Sans" font-size="12" fill="#0d0d0d" stroke="#0d0d0d" stroke-width="0.35" textLength="6.20" lengthAdjust="spacingAndGlyphs">+</text>
<text x="711.30" y="381.00" font-family="Liberation Sans" font-size="19" fill="#0d0d0d" stroke="#0d0d0d" stroke-width="0.35" textLength="24.80" lengthAdjust="spacingAndGlyphs">IEL</text>
</svg>
</div>

<div id="rp"></div>
<div class="logo">nature</div>
<div class="hline"></div>
<div class="ni" style="left:761px">Explore content<i class="chev"></i></div>
<div class="ni" style="left:896px">About the journal<i class="chev"></i></div>
<div class="ni" style="left:1043px">Publish with us<i class="chev"></i></div>
<div class="thick"></div>
<div class="bc" style="top:167px"><a class="g">nature</a><span class="gt"></span><a class="g">articles</a><span class="gt"></span><span class="cur">article</span></div>
<div class="meta" style="top:211.5px">Article<span class="sep"></span>Published: 14 May 2025</div>
<div class="title">Targeting symbionts by apolipoprotein L proteins<br>modulates gut immunity</div>
<div class="al" style="top:315px"><a>Tao Yang</a>, <a>Xiaohu Hu</a>, <a>Fei Cao</a>, <a>Fenglin Yun</a>, <a>Kaiwen Jia</a>, <a>Mingxiang Zhang</a>, <a>Gaohui Kong</a>, <a>Biyu Nie</a>, <a>Yuexing</a></div>
<div class="al" style="top:341px"><a>Liu</a>, <a>Haohao Zhang</a>, <a>Xiaoyu Li</a>, <a>Hongyan Gao</a>, <a>Jiantao Shi</a>, <a>Guanxiang Liang</a>, <a>Guohong Hu</a>, <a>Dennis L. Kasper</a>,</div>
<div class="al" style="top:367px"><a>Xinyang Song</a><svg class="env" width="13" height="10" viewBox="0 0 13 10"><rect x="0.65" y="0.65" width="11.7" height="8.7" fill="none" stroke="#2d5d92" stroke-width="1.3"/><path d="M0.8,1 L6.5,5.6 L12.2,1" fill="none" stroke="#2d5d92" stroke-width="1.2"/></svg> &amp; <a>Youcun Qian</a><svg class="env" width="13" height="10" viewBox="0 0 13 10"><rect x="0.65" y="0.65" width="11.7" height="8.7" fill="none" stroke="#2d5d92" stroke-width="1.3"/><path d="M0.8,1 L6.5,5.6 L12.2,1" fill="none" stroke="#2d5d92" stroke-width="1.2"/></svg></div>
<div class="al" style="top:404px"><a><em>Nature</em></a> <span style="color:#222">(2025)</span><span class="sep2"></span><a>Cite this article</a></div>
<div class="al" style="top:439px"><a>Metrics</a></div>

</body></html>
